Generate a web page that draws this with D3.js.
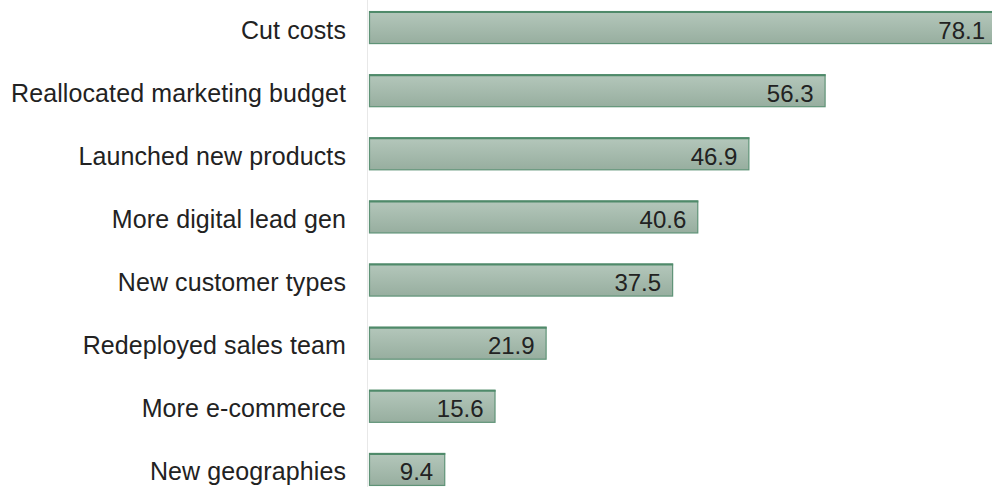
<!DOCTYPE html>
<html><head><meta charset="utf-8">
<script src="https://cdn.jsdelivr.net/npm/d3@7"></script>
<style>body{margin:0;background:#fff}svg{display:block}</style>
</head><body>
<svg id="c" width="992" height="487"></svg>
<script>
const categories = ["Cut costs","Reallocated marketing budget","Launched new products","More digital lead gen","New customer types","Redeployed sales team","More e-commerce","New geographies"];
const values = [78.1,56.3,46.9,40.6,37.5,21.9,15.6,9.4];

const svg = d3.select("#c");
const x0 = 369;
const x = d3.scaleLinear().domain([0,100]).range([x0, x0+811]);
const y = d3.scaleBand().domain(categories).range([-4,501]).paddingInner(0.477).paddingOuter(0.2385);
const font = "'Liberation Sans', Arial, Helvetica, sans-serif";

const defs = svg.append("defs");
const g = defs.append("linearGradient").attr("id","bg").attr("x1",0).attr("y1",0).attr("x2",0).attr("y2",1);
g.append("stop").attr("offset","0%").attr("stop-color","#b4c7bb");
g.append("stop").attr("offset","100%").attr("stop-color","#97ae9f");

svg.append("line").attr("x1",x0-1.5).attr("x2",x0-1.5).attr("y1",0).attr("y2",487)
  .attr("stroke","#e8e8e8").attr("stroke-width",1);

const data = categories.map((c,i)=>({c, v: values[i]}));

svg.selectAll("rect.bar").data(data).join("rect").attr("class","bar")
  .attr("x", x(0)+0.5).attr("y", d=>y(d.c)+0.5)
  .attr("width", d=>x(d.v)-x(0)-1).attr("height", y.bandwidth()-1)
  .attr("fill","url(#bg)").attr("stroke","#5f9377").attr("stroke-width",1.2);

svg.selectAll("line.top").data(data).join("line").attr("class","top")
  .attr("x1", x(0)).attr("x2", d=>x(d.v)).attr("y1", d=>y(d.c)+1).attr("y2", d=>y(d.c)+1)
  .attr("stroke","#4f8a6a").attr("stroke-width",2);

svg.selectAll("text.val").data(data).join("text").attr("class","val")
  .attr("x", d=>Math.min(x(d.v)-12, 985)).attr("y", d=>y(d.c)+y.bandwidth()/2+11)
  .attr("text-anchor","end")
  .attr("font-family",font).attr("font-size",24).attr("fill","#222")
  .text(d=>d.v.toFixed(1));

svg.selectAll("text.cat").data(data).join("text").attr("class","cat")
  .attr("x", 346).attr("y", d=>y(d.c)+y.bandwidth()/2+11)
  .attr("text-anchor","end")
  .attr("font-family",font).attr("font-size",25).attr("letter-spacing",0.1).attr("fill","#222")
  .text(d=>d.c);
</script>
</body></html>
